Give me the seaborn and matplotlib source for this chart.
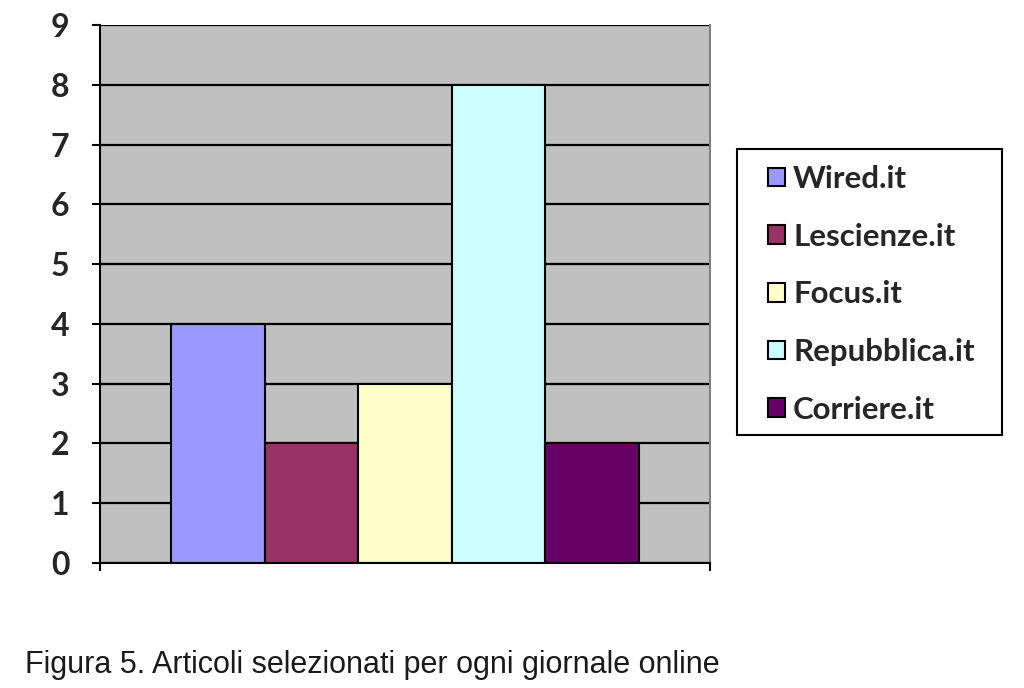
import pandas as pd
import matplotlib.pyplot as plt
import seaborn as sns
from matplotlib.patches import Rectangle

# Dati
siti = ["Wired.it", "Lescienze.it", "Focus.it", "Repubblica.it", "Corriere.it"]
articoli = [4, 2, 3, 8, 2]
colori = ["#9999FF", "#993366", "#FFFFCC", "#CCFFFF", "#660066"]
tick_y = [0, 1, 2, 3, 4, 5, 6, 7, 8, 9]
didascalia = "Figura 5. Articoli selezionati per ogni giornale online"

df = pd.DataFrame({"gruppo": [""] * len(siti), "sito": siti, "articoli": articoli})

sns.set_theme(style="white")
plt.rcParams["font.family"] = ["Lato", "DejaVu Sans"]

fig = plt.figure(figsize=(10.24, 6.88), dpi=100)
ax = fig.add_axes([100 / 1024, 1 - 563 / 688, 610 / 1024, 538 / 688])
ax.set_facecolor("#C0C0C0")

sns.barplot(
    data=df, x="gruppo", y="articoli", hue="sito",
    palette=dict(zip(siti, colori)), width=0.8, saturation=1,
    edgecolor="black", linewidth=1.5, ax=ax,
)

# Assi e griglia stile Excel
ax.set_ylim(0, 9)
ax.set_yticks(tick_y)
lim = 0.4 * 610 / 468
ax.set_xlim(-lim, lim)
ax.set_xticks([-lim, lim])
ax.set_xticklabels(["", ""])
ax.set_xlabel("")
ax.set_ylabel("")
ax.set_axisbelow(True)
ax.yaxis.grid(True, color="black", linewidth=1.6)
ax.tick_params(axis="both", direction="out", length=6, width=1.5, color="black")
ax.tick_params(axis="y", labelsize=23, pad=16, left=True)
ax.tick_params(axis="x", bottom=True)
for lbl in ax.get_yticklabels():
    lbl.set_fontweight("bold")
for side in ["left", "bottom"]:
    ax.spines[side].set_color("black")
    ax.spines[side].set_linewidth(1.5)
ax.spines["top"].set_visible(False)
ax.spines["right"].set_color("#808080")
ax.spines["right"].set_linewidth(1.5)

# Legenda con cornice separata
handles, labels = ax.get_legend_handles_labels()
if ax.legend_:
    ax.legend_.remove()
leg = fig.legend(
    handles, labels, loc="upper left",
    bbox_to_anchor=(768 / 1024, 1 - 165 / 688),
    frameon=False, borderpad=0, borderaxespad=0,
    handlelength=0.55, handleheight=0.55, handletextpad=0.25,
    labelspacing=0.95, prop={"size": 22.5, "weight": "bold"},
)
for h in leg.legend_handles:
    h.set_edgecolor("black")
    h.set_linewidth(1.5)
fig.patches.append(Rectangle(
    (737 / 1024, 1 - 435 / 688), 265 / 1024, 286 / 688,
    transform=fig.transFigure, fill=False, edgecolor="black", linewidth=1.5,
))

fig.text(25 / 1024, 1 - 665 / 688, didascalia, va="center", ha="left",
         fontsize=22, color="#1a1a1a", family=["Liberation Sans", "DejaVu Sans"])

fig.savefig("out.png", dpi=100)
